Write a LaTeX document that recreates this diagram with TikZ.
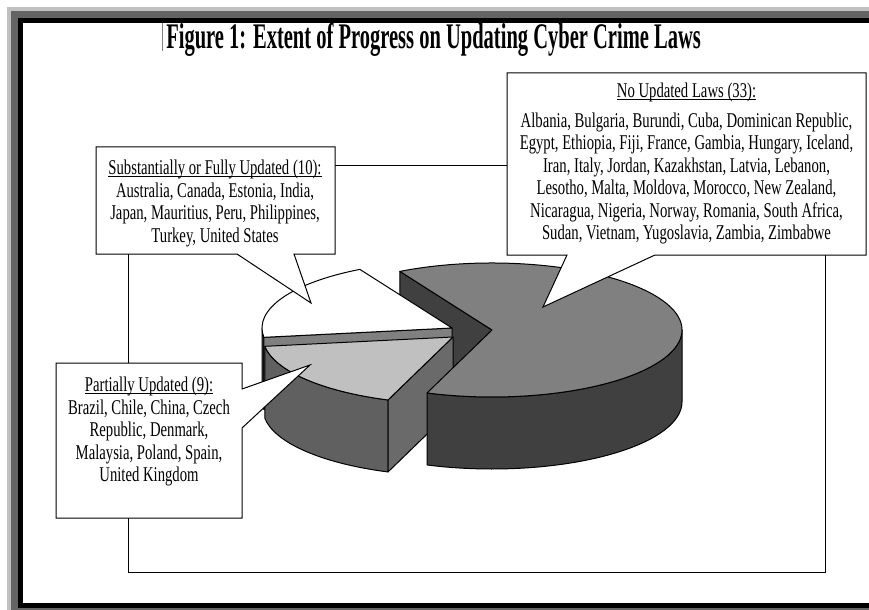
\documentclass[tikz,border=0pt]{standalone}
\usepackage{fontspec}
\usepackage{tikz}
\usetikzlibrary{calc}
\newfontfamily\boxfont{Liberation Serif}[FakeStretch=0.70]
\newfontfamily\titlefont{Liberation Serif}[FakeStretch=0.57]
\definecolor{frameouter}{HTML}{C0C0C0}
\definecolor{framemid}{HTML}{646464}
\definecolor{piedark}{HTML}{404040}
\definecolor{piemid}{HTML}{808080}
\definecolor{pieside}{HTML}{606060}
\definecolor{pieface}{HTML}{6A6A6A}
\definecolor{pielight}{HTML}{C0C0C0}
\newcommand{\hdul}[1]{\setbox0\hbox{#1}\rlap{\rule[-1.5pt]{\wd0}{0.6pt}}#1}

\begin{document}
\begin{tikzpicture}[x=0.75pt, y=-0.75pt,
    edge/.style={draw=black, line width=0.75pt, line join=round},
    callout/.style={draw=black, fill=white, line width=0.75pt, line join=miter},
    calltext/.style={inner sep=0pt, align=center,
      font=\boxfont\fontsize{15.75pt}{16.9pt}\selectfont}]
    % Page and frame
    \useasboundingbox (0,0) rectangle (869,610);
    \fill[white] (0,0) rectangle (869,610);
    \fill[frameouter] (7,7) rectangle (869,610);
    \fill[framemid] (11,11) rectangle (869,610);
    \fill[black] (18,18) rectangle (869,608);
    \fill[white] (23,23) rectangle (869,603);

    % Title
    \draw[gray, line width=0.75pt] (162,23) -- (162,51);
    \node[anchor=base west, inner sep=0pt,
      font=\titlefont\bfseries\fontsize{27pt}{30pt}\selectfont] (title) at (166,49)
      {Figure 1: Extent of Progress on Updating Cyber Crime Laws};

    % Plot area
    \draw[line width=0.75pt] (128,166) rectangle (825,572);

    % Slice corners
    \coordinate (bigc) at (492,330);
    \coordinate (subc) at (452,328);
    \coordinate (partc) at (453,337);

    % Pie slices, back to front
    \filldraw[edge, fill=piedark] (bigc) -- ++(-119:190 and 67) -- ++(0,72) -- ($(bigc)+(0,72)$) -- cycle;
    \filldraw[edge, fill=pieside] (subc) ++(172:190 and 67)
      arc[start angle=172, end angle=180, x radius=190, y radius=67] -- ++(0,72)
      arc[start angle=180, end angle=172, x radius=190, y radius=67] -- cycle;
    \filldraw[edge, fill=piemid] (subc) -- ++(172:190 and 67) -- ++(0,72) -- ($(subc)+(0,72)$) -- cycle;
    \filldraw[edge, fill=white] (subc) -- ++(172:190 and 67)
      arc[start angle=172, end angle=241, x radius=190, y radius=67] -- cycle;
    \filldraw[edge, fill=pieside] (partc) ++(110:190 and 67)
      arc[start angle=110, end angle=172, x radius=190, y radius=67] -- ++(0,72)
      arc[start angle=172, end angle=110, x radius=190, y radius=67] -- cycle;
    \filldraw[edge, fill=pieface] (partc) -- ++(110:190 and 67) -- ++(0,72) -- ($(partc)+(0,72)$) -- cycle;
    \filldraw[edge, fill=pielight] (partc) -- ++(110:190 and 67)
      arc[start angle=110, end angle=172, x radius=190, y radius=67] -- cycle;
    \filldraw[edge, fill=piedark] (bigc) ++(0:190 and 67)
      arc[start angle=0, end angle=110, x radius=190, y radius=67] -- ++(0,72)
      arc[start angle=110, end angle=0, x radius=190, y radius=67] -- cycle;
    \filldraw[edge, fill=piemid] (bigc) -- ++(-119:190 and 67)
      arc[start angle=-119, end angle=110, x radius=190, y radius=67] -- cycle;

    % Callouts
    \coordinate (subtip) at (311,303);
    \coordinate (parttip) at (310,365);
    \coordinate (nolawstip) at (543,307);
    \draw[callout] (96,147) -- (335,147) -- (335,254) -- (294,254) -- (subtip) -- (237,254) -- (96,254) -- cycle;
    \draw[callout] (56,363) -- (242,363) -- (242,389) -- (parttip) -- (242,428) -- (242,518) -- (56,518) -- cycle;
    \draw[callout] (507,73) -- (866,73) -- (866,255) -- (655,255) -- (nolawstip) -- (567,255) -- (507,255) -- cycle;

    \node[calltext, anchor=north] (subtext) at (215,160)
      {\hdul{Substantially or Fully Updated (10):}\\
       Australia, Canada, Estonia, India,\\
       Japan, Mauritius, Peru, Philippines,\\
       Turkey, United States};
    \node[calltext, anchor=north] (parttext) at (149,377)
      {\hdul{Partially Updated (9):}\\
       Brazil, Chile, China, Czech\\
       Republic, Denmark,\\
       Malaysia, Poland, Spain,\\
       United Kingdom};
    \node[calltext, anchor=north] (nolawstext) at (686.5,83)
      {\hdul{No Updated Laws (33):}\\[5pt]
       Albania, Bulgaria, Burundi, Cuba, Dominican Republic,\\
       Egypt, Ethiopia, Fiji, France, Gambia, Hungary, Iceland,\\
       Iran, Italy, Jordan, Kazakhstan, Latvia, Lebanon,\\
       Lesotho, Malta, Moldova, Morocco, New Zealand,\\
       Nicaragua, Nigeria, Norway, Romania, South Africa,\\
       Sudan, Vietnam, Yugoslavia, Zambia, Zimbabwe};
\end{tikzpicture}
\end{document}
